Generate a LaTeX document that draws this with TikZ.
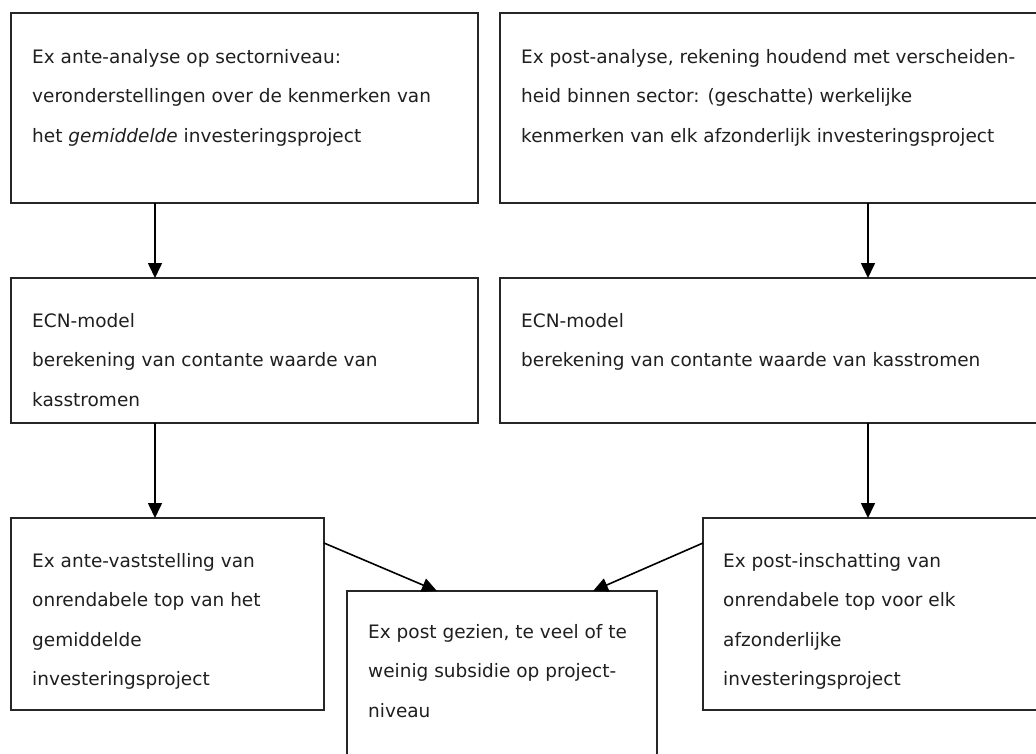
\documentclass[tikz,border=0pt]{standalone}
\usepackage{fontspec}
\setmainfont{DejaVu Sans}
\usetikzlibrary{arrows.meta}
\begin{document}
\begin{tikzpicture}[x=1pt,y=-1pt,
  box/.style={draw=black!85, line width=1.8pt, rectangle, inner sep=0pt, outer sep=0pt, anchor=north west},
  txt/.style={anchor=base west, align=left, inner sep=0pt, font=\fontsize{18.5}{39.5}\selectfont, text=black!88},
  arr/.style={draw=black, line width=1.6pt, -{Triangle[width=14pt,length=15pt]}}]
\useasboundingbox (0,0) rectangle (1036,753);
% boxes
\node[box, minimum width=467pt, minimum height=190pt] (b1) at (11,13) {};
\node[box, minimum width=545pt, minimum height=190pt] (b2) at (500,13) {};
\node[box, minimum width=467pt, minimum height=145pt] (b3) at (11,278) {};
\node[box, minimum width=545pt, minimum height=145pt] (b4) at (500,278) {};
\node[box, minimum width=313pt, minimum height=192pt] (b5) at (11,518) {};
\node[box, minimum width=310pt, minimum height=200pt] (b6) at (347,591) {};
\node[box, minimum width=345pt, minimum height=192pt] (b7) at (703,518) {};
% texts (anchored at the baseline of their last line)
\node[txt] (t1) at ([xshift=21pt,yshift=-129pt]b1.north west)
  {Ex ante-analyse op sectorniveau:\\veronderstellingen over de kenmerken van\\het \textit{gemiddelde} investeringsproject};
\node[txt] (t2) at ([xshift=21pt,yshift=-129pt]b2.north west)
  {Ex post-analyse, rekening houdend met verscheiden-\\heid binnen sector: (geschatte) werkelijke\\kenmerken van elk afzonderlijk investeringsproject};
\node[txt] (t3) at ([xshift=21pt,yshift=-128pt]b3.north west)
  {ECN-model\\berekening van contante waarde van\\kasstromen};
\node[txt] (t4) at ([xshift=21pt,yshift=-88.5pt]b4.north west)
  {ECN-model\\berekening van contante waarde van kasstromen};
\node[txt] (t5) at ([xshift=21pt,yshift=-167.5pt]b5.north west)
  {Ex ante-vaststelling van\\onrendabele top van het\\gemiddelde\\investeringsproject};
\node[txt] (t6) at ([xshift=21pt,yshift=-126pt]b6.north west)
  {Ex post gezien, te veel of te\\weinig subsidie op project-\\niveau};
\node[txt] (t7) at ([xshift=20pt,yshift=-167.5pt]b7.north west)
  {Ex post-inschatting van\\onrendabele top voor elk\\afzonderlijke\\investeringsproject};
% arrows
\draw[arr] ([xshift=144pt]b1.south west) -- ([xshift=144pt]b3.north west);
\draw[arr] ([xshift=368pt]b2.south west) -- ([xshift=368pt]b4.north west);
\draw[arr] ([xshift=144pt]b3.south west) -- ([xshift=144pt]b5.north west);
\draw[arr] ([xshift=368pt]b4.south west) -- ([xshift=165pt]b7.north west);
\draw[arr] ([yshift=-25pt]b5.north east) -- ([xshift=90pt]b6.north west);
\draw[arr] ([yshift=-25pt]b7.north west) -- ([xshift=246pt]b6.north west);
\end{tikzpicture}
\end{document}
